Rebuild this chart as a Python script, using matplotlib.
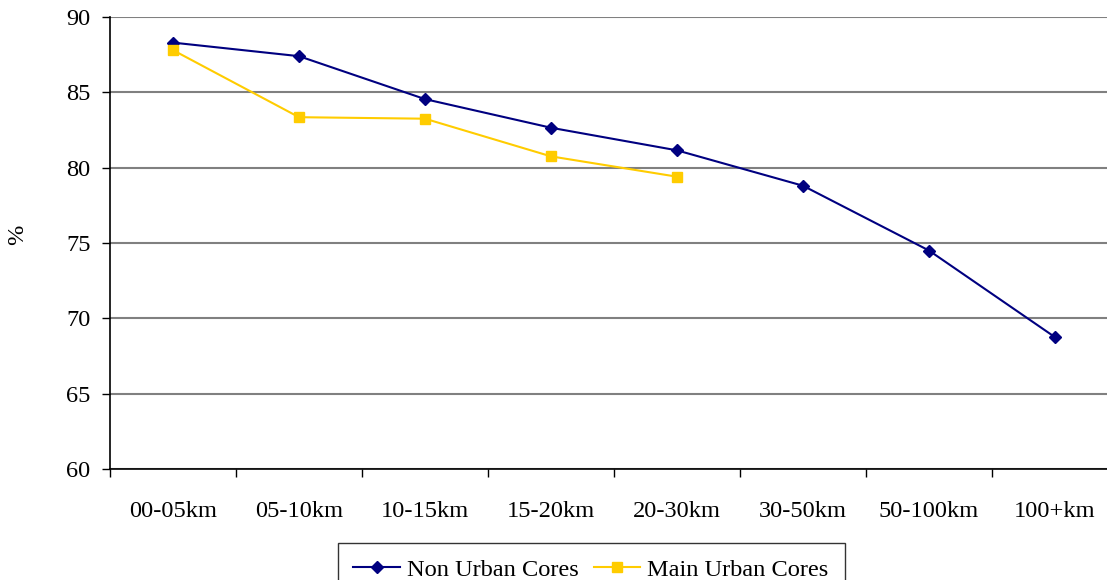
import numpy as np
import matplotlib
matplotlib.use("Agg")
import matplotlib.pyplot as plt
from matplotlib.ticker import FixedLocator, NullFormatter

categories = ["00-05km", "05-10km", "10-15km", "15-20km", "20-30km",
              "30-50km", "50-100km", "100+km"]
non_urban = [88.3, 87.4, 84.55, 82.65, 81.15, 78.8, 74.5, 68.75]
main_urban = [87.8, 83.35, 83.25, 80.75, 79.4]

plt.rcParams['font.family'] = ['Liberation Serif', 'DejaVu Serif']
plt.rcParams['font.size'] = 17.6

fig = plt.figure(figsize=(11.07, 5.80), dpi=100)
ax = fig.add_axes([110 / 1107, 1 - 469 / 580, 1008 / 1107, 452 / 580])

x = np.arange(len(categories))
ax.plot(x, non_urban, color="#000080", marker="D", markersize=6.5, lw=1.5,
        label="Non Urban Cores", zorder=3)
ax.plot(x[:len(main_urban)], main_urban, color="#FFCC00", marker="s",
        markersize=7.5, lw=1.5, label="Main Urban Cores", zorder=3)

ax.set_xlim(-0.5, len(categories) - 0.5)
ax.set_ylim(60, 90)
ax.set_yticks(np.arange(60, 91, 5))
ax.yaxis.grid(True, color="#808080", lw=1.5)
ax.set_axisbelow(True)

# category boundaries get tick marks, labels go at centres
ax.xaxis.set_major_locator(FixedLocator(np.arange(-0.5, len(categories), 1.0)))
ax.xaxis.set_major_formatter(NullFormatter())
ax.xaxis.set_minor_locator(FixedLocator(x))
ax.set_xticklabels(categories, minor=True)
ax.tick_params(axis="x", which="major", direction="out", length=6, width=1)
ax.tick_params(axis="x", which="minor", length=0, pad=23)
ax.tick_params(axis="y", direction="out", length=6, width=1, pad=8)

for s in ["top", "right"]:
    ax.spines[s].set_visible(False)
ax.spines["left"].set_linewidth(1.2)
ax.spines["bottom"].set_linewidth(1.2)

fig.text(18 / 1107, 1 - 235 / 580, "%", rotation=90, ha="center", va="center",
         fontsize=17.6)

leg = fig.legend(loc="upper center", bbox_to_anchor=(591 / 1107, 1 - 543 / 580),
                 ncol=2, frameon=True, fancybox=False, edgecolor="black",
                 handlelength=1.9, columnspacing=0.6, handletextpad=0.3,
                 borderpad=0.65, borderaxespad=0)
leg.get_frame().set_linewidth(1)

fig.savefig("out.png", dpi=100)
